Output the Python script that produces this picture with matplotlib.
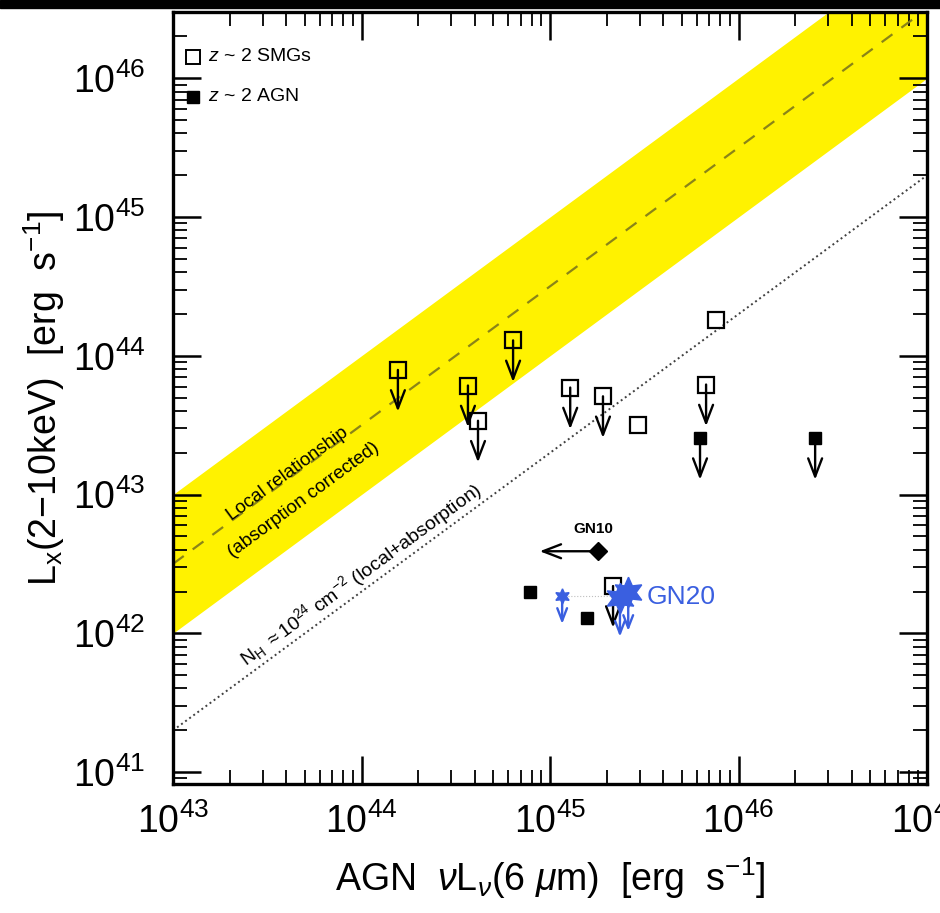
import matplotlib.pyplot as plt
import numpy as np
from matplotlib.patches import Rectangle

plt.rcParams["font.family"] = ["Liberation Sans", "DejaVu Sans"]
plt.rcParams["mathtext.fontset"] = "custom"
plt.rcParams["mathtext.rm"] = "Liberation Sans"
plt.rcParams["mathtext.it"] = "Liberation Sans:italic"

# --- data ---
# z~2 SMGs (open squares)
smg_x = [1.56e44, 3.67e44, 4.15e44, 6.37e44, 1.28e45, 1.91e45, 2.93e45, 6.73e45, 7.6e45, 2.16e45]
smg_y = [7.9e43, 6.1e43, 3.4e43, 1.29e44, 5.9e43, 5.1e43, 3.16e43, 6.2e43, 1.8e44, 2.19e42]
smg_ul = [True, True, True, True, True, True, False, True, False, True]

# z~2 AGN (filled squares)
agn_x = [6.25e45, 2.55e46, 7.8e44, 1.57e45]
agn_y = [2.55e43, 2.55e43, 2.0e42, 1.29e42]
agn_ul = [True, True, False, False]

# GN10 (diamond, upper limit in x)
gn10_x = [1.8e45]
gn10_y = [3.9e42]

# GN20 and companions (blue stars, upper limits)
gn20_x = [1.16e45, 2.35e45, 2.6e45]
gn20_y = [1.85e42, 1.80e42, 1.98e42]
gn20_size = [11, 22, 22]

# local relation: log Lx = log L6 + offset
band_lo, band_hi, band_mid = -1.0, 0.0, -0.5
nh24_offset = -1.7

x_ticks = [1e43, 1e44, 1e45, 1e46, 1e47]
y_ticks = [1e41, 1e42, 1e43, 1e44, 1e45, 1e46]

fig = plt.figure(figsize=(9.4, 9.13), dpi=100)
ax = fig.add_axes([173 / 940, 129 / 913, 754 / 940, 772 / 913])
ax.set_xscale("log")
ax.set_yscale("log")
ax.set_xlim(1e43, 1e47)
ax.set_ylim(8.2e40, 3e46)

xx = np.logspace(43, 47, 50)
ax.fill_between(xx, xx * 10**band_lo, xx * 10**band_hi, color="#fff200", lw=0, zorder=1)
ax.plot(xx, xx * 10**band_mid, color="#8a8418", lw=1.6, ls=(0, (6, 5)), zorder=2)
ax.plot(xx, xx * 10**nh24_offset, color="0.25", lw=1.4, ls=(0, (1, 1.6)), zorder=2)

ax.text(4.07e43, 1.4e43, "Local relationship", rotation=36.3,
        fontsize=13.5, ha="center", va="center", rotation_mode="anchor", zorder=3)
ax.text(4.95e43, 9.1e42, "(absorption corrected)", rotation=36.3,
        fontsize=13.5, ha="center", va="center", rotation_mode="anchor", zorder=3)
ax.text(9.9e43, 2.67e42, r"N$_{\rm H}$ $\approx$10$^{24}$ cm$^{-2}$ (local+absorption)",
        rotation=36.3, fontsize=14, ha="center", va="center", rotation_mode="anchor", zorder=3)

arrow_kw = dict(arrowstyle="->,head_length=1.3,head_width=0.5", lw=1.7, color="black",
                shrinkA=0, shrinkB=0)

for x, y, ul in zip(smg_x, smg_y, smg_ul):
    if ul:
        ax.annotate("", xy=(x, y / 10**0.3), xytext=(x, y), arrowprops=arrow_kw, zorder=4)
ax.plot(smg_x, smg_y, "s", ms=11.5, mfc="none", mec="black", mew=1.6, zorder=5)

for x, y, ul in zip(agn_x, agn_y, agn_ul):
    if ul:
        ax.annotate("", xy=(x, y / 10**0.3), xytext=(x, y), arrowprops=arrow_kw, zorder=4)
ax.plot(agn_x, agn_y, "s", ms=8, color="black", zorder=5)

# GN10
ax.annotate("", xy=(gn10_x[0] / 10**0.31, gn10_y[0]), xytext=(gn10_x[0], gn10_y[0]),
            arrowprops=arrow_kw, zorder=4)
ax.plot(gn10_x, gn10_y, "D", ms=9, color="black", zorder=5)
ax.text(gn10_x[0] * 0.94, gn10_y[0] * 1.28, "GN10", fontsize=11, fontweight="bold",
        ha="center", va="bottom", zorder=6)

# GN20
blue = "#3a5fe0"
ax.plot([gn20_x[0], gn20_x[1]], [gn20_y[0], gn20_y[0]], color="0.75", lw=0.8, ls=":", zorder=3)
blue_arrow = dict(arrow_kw, color=blue)
for x, y, s in zip(gn20_x, gn20_y, gn20_size):
    ax.annotate("", xy=(x, y / 10**(0.2 if s < 15 else 0.28)), xytext=(x, y),
                arrowprops=dict(blue_arrow, arrowstyle="->,head_length=0.9,head_width=0.35"),
                zorder=6)
    ax.plot([x], [y], marker=(6, 1, 0), ms=s, color=blue, mec=blue, zorder=7)
ax.text(gn20_x[2] * 1.25, gn20_y[1] * 1.02, "GN20", fontsize=19, color=blue,
        ha="left", va="center", zorder=6)

# legend
ax.plot([0.027], [0.942], "s", ms=10, mfc="none", mec="black", mew=1.4, transform=ax.transAxes)
ax.plot([0.027], [0.890], "s", ms=8, color="black", transform=ax.transAxes)
ax.text(0.047, 0.942, r"$z$ ~ 2 SMGs", fontsize=14, va="center", transform=ax.transAxes)
ax.text(0.047, 0.890, r"$z$ ~ 2 AGN", fontsize=14, va="center", transform=ax.transAxes)

ax.set_xticks(x_ticks)
ax.set_yticks(y_ticks)
ax.tick_params(which="both", direction="in", top=True, right=True, labelsize=27)
ax.tick_params(axis="y", pad=20)
ax.tick_params(axis="x", pad=14)
ax.tick_params(which="major", length=20, width=1.8)
ax.tick_params(which="minor", length=10, width=1.3)
for s in ax.spines.values():
    s.set_linewidth(2.4)

ax.set_xlabel(r"AGN  $\nu$L$_\nu$(6 $\mu$m)  [erg  s$^{-1}$]", fontsize=27, labelpad=10)
ax.set_ylabel(r"L$_{\rm x}$(2$-$10keV)  [erg  s$^{-1}$]", fontsize=27, labelpad=4)

fig.patches.append(Rectangle((0, 1 - 8 / 913), 1, 8 / 913, transform=fig.transFigure,
                             color="black", zorder=10))

fig.savefig("out.png", dpi=100)
